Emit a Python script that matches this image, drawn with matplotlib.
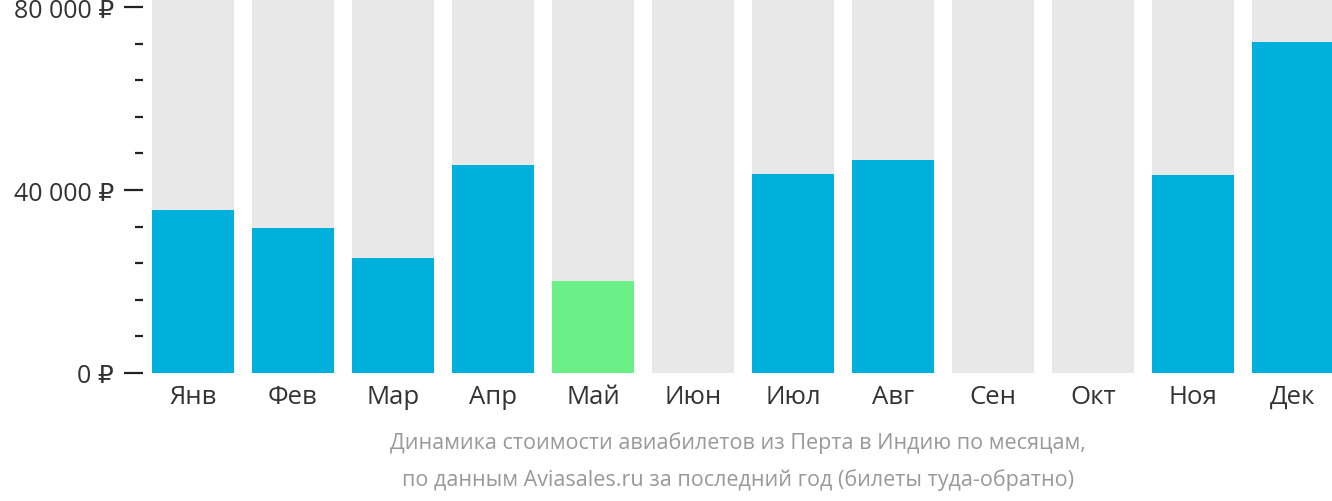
import matplotlib
matplotlib.use("Agg")
import matplotlib.pyplot as plt
from matplotlib.ticker import MultipleLocator, FuncFormatter

plt.rcParams['font.family'] = ['Open Sans', 'DejaVu Sans']

months = ["Янв", "Фев", "Мар", "Апр", "Май", "Июн", "Июл", "Авг", "Сен", "Окт", "Ноя", "Дек"]
prices = [35600, 31700, 25100, 45500, 20100, 0, 43500, 46600, 0, 0, 43300, 72300]
cheapest = "Май"
y_max = 81750

fig = plt.figure(figsize=(13.32, 5.02), dpi=100)
ax = fig.add_axes([143 / 1332, 1 - 374 / 502, 1 - 143 / 1332, 374 / 502])

x = range(len(months))
ax.bar(x, [y_max] * len(months), width=0.82, color="#e8e8e8", zorder=1)
colors = ["#6bf087" if m == cheapest else "#00b0dc" for m in months]
ax.bar(x, prices, width=0.82, color=colors, zorder=2)

ax.set_xlim(-0.5, 11.39)
ax.set_ylim(0, y_max)
for s in ax.spines.values():
    s.set_visible(False)

ax.yaxis.set_major_locator(MultipleLocator(40000))
ax.yaxis.set_minor_locator(MultipleLocator(8000))
ax.yaxis.set_major_formatter(FuncFormatter(lambda v, p: f"{int(v):,} ₽".replace(",", " ")))
ax.tick_params(axis="y", which="major", length=14, width=1.6, color="#222222",
               labelsize=18, labelcolor="#333333", pad=7)
ax.tick_params(axis="y", which="minor", length=6, width=1.6, color="#222222")

ax.set_xticks(list(x))
ax.set_xticklabels(months)
ax.tick_params(axis="x", length=0, labelsize=18.5, labelcolor="#333333", pad=8)

fig.text(0.554, 1 - 443 / 502, "Динамика стоимости авиабилетов из Перта в Индию по месяцам,",
         ha="center", va="center", fontsize=15.5, color="#999999")
fig.text(0.554, 1 - 480 / 502, "по данным Aviasales.ru за последний год (билеты туда-обратно)",
         ha="center", va="center", fontsize=15.5, color="#999999")

fig.savefig("out.png", dpi=100)
